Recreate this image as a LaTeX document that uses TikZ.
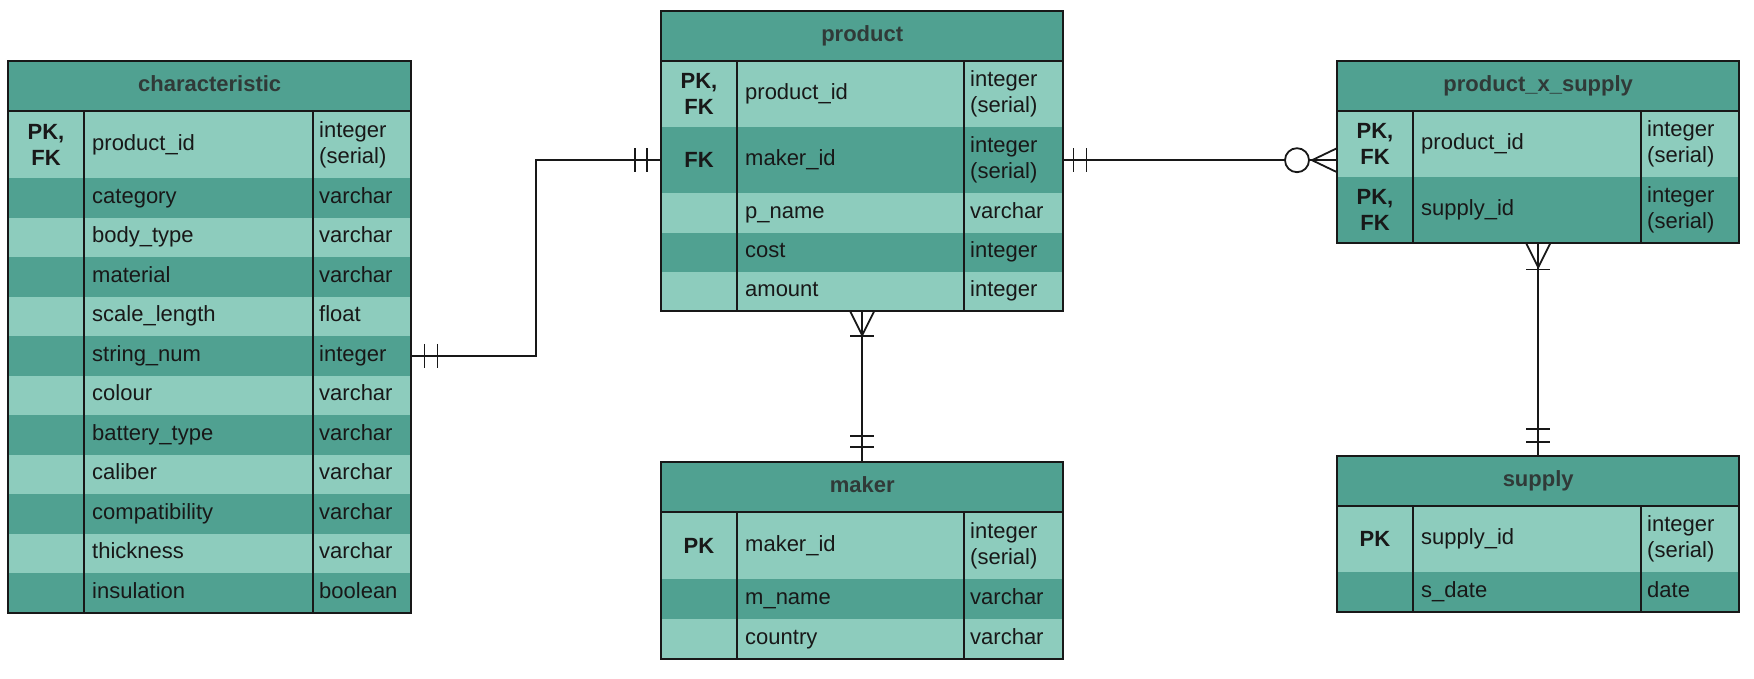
\documentclass[tikz,border=0pt]{standalone}
\usepackage{fontspec}
\setmainfont{Liberation Sans}
\usepackage{tikz}
\usetikzlibrary{calc,positioning}
\definecolor{tealdark}{RGB}{80,161,145}
\definecolor{teallight}{RGB}{141,204,189}
\definecolor{hdrtext}{RGB}{48,58,56}
\definecolor{ink}{RGB}{24,24,24}

\tikzset{
  hdrbox/.style={fill=tealdark,text=hdrtext,font=\bfseries,anchor=north west,
    inner sep=0pt,minimum height=50pt,text height=16pt,text depth=5pt},
  rowbox/.style={anchor=north west,inner sep=0pt},
  celltxt/.style={anchor=west,text=ink,inner sep=0pt,text height=16pt,text depth=5pt},
  celltwo/.style={anchor=west,text=ink,inner sep=0pt,align=left},
  keytxt/.style={text=ink,font=\bfseries,align=center,inner sep=0pt},
  frame/.style={ink,line width=2pt},
  rel/.style={ink,line width=1.8pt},
}

\begin{document}
\fontsize{22}{26}\selectfont
\begin{tikzpicture}[x=1pt,y=-1pt]
\useasboundingbox (0,0) rectangle (1754,678);

% characteristic
\node[hdrbox,minimum width=403pt] (ch0) at (8,61) {characteristic};
\node[rowbox,fill=teallight,minimum width=403pt,minimum height=67pt] (ch1) at (8,111) {};
\node[keytxt] at (46,144.5) {PK,\\FK};
\node[celltxt] at (92,144.5) {product\_id};
\node[celltwo] at (319,144.5) {integer\\(serial)};
\foreach \i/\n/\t in {2/category/varchar,3/body\_type/varchar,4/material/varchar,
    5/scale\_length/float,6/string\_num/integer,7/colour/varchar,8/battery\_type/varchar,
    9/caliber/varchar,10/compatibility/varchar,11/thickness/varchar,12/insulation/boolean}{
  \pgfmathsetmacro\ya{178+(\i-2)*39.5}
  \ifodd\i\relax\def\rc{teallight}\else\def\rc{tealdark}\fi
  \node[rowbox,fill=\rc,minimum width=403pt,minimum height=39.5pt] (ch\i) at (8,\ya) {};
  \node[celltxt] at (92,{\ya+19.75}) {\n};
  \node[celltxt] at (319,{\ya+19.75}) {\t};
}
\draw[frame] (ch0.north west) rectangle (ch12.south east);
\draw[frame] (ch0.south west) -- (ch0.south east);
\draw[frame] (84,111) -- (84,612.5);
\draw[frame] (313,111) -- (313,612.5);

% product
\node[hdrbox,minimum width=402pt] (pr0) at (661,11) {product};
\node[rowbox,fill=teallight,minimum width=402pt,minimum height=66pt] (pr1) at (661,61) {};
\node[keytxt] at (699,94) {PK,\\FK};
\node[celltxt] at (745,94) {product\_id};
\node[celltwo] at (970,94) {integer\\(serial)};
\node[rowbox,fill=tealdark,minimum width=402pt,minimum height=66pt] (pr2) at (661,127) {};
\node[keytxt] at (699,160) {FK};
\node[celltxt] at (745,160) {maker\_id};
\node[celltwo] at (970,160) {integer\\(serial)};
\foreach \i/\n/\t in {3/p\_name/varchar,4/cost/integer,5/amount/integer}{
  \pgfmathsetmacro\ya{193+(\i-3)*39.3}
  \ifodd\i\relax\def\rc{teallight}\else\def\rc{tealdark}\fi
  \node[rowbox,fill=\rc,minimum width=402pt,minimum height=39.3pt] (pr\i) at (661,\ya) {};
  \node[celltxt] at (745,{\ya+19.65}) {\n};
  \node[celltxt] at (970,{\ya+19.65}) {\t};
}
\draw[frame] (pr0.north west) rectangle (pr5.south east);
\draw[frame] (pr0.south west) -- (pr0.south east);
\draw[frame] (737,61) -- (737,311);
\draw[frame] (964,61) -- (964,311);

% maker
\node[hdrbox,minimum width=402pt] (mk0) at (661,462) {maker};
\node[rowbox,fill=teallight,minimum width=402pt,minimum height=67pt] (mk1) at (661,512) {};
\node[keytxt] at (699,545.5) {PK};
\node[celltxt] at (745,545.5) {maker\_id};
\node[celltwo] at (970,545.5) {integer\\(serial)};
\foreach \i/\n/\t in {2/m\_name/varchar,3/country/varchar}{
  \pgfmathsetmacro\ya{579+(\i-2)*40}
  \ifodd\i\relax\def\rc{teallight}\else\def\rc{tealdark}\fi
  \node[rowbox,fill=\rc,minimum width=402pt,minimum height=40pt] (mk\i) at (661,\ya) {};
  \node[celltxt] at (745,{\ya+20}) {\n};
  \node[celltxt] at (970,{\ya+20}) {\t};
}
\draw[frame] (mk0.north west) rectangle (mk3.south east);
\draw[frame] (mk0.south west) -- (mk0.south east);
\draw[frame] (737,512) -- (737,659);
\draw[frame] (964,512) -- (964,659);

% product_x_supply
\node[hdrbox,minimum width=402pt] (px0) at (1337,61) {product\_x\_supply};
\node[rowbox,fill=teallight,minimum width=402pt,minimum height=66pt] (px1) at (1337,111) {};
\node[keytxt] at (1375,144) {PK,\\FK};
\node[celltxt] at (1421,144) {product\_id};
\node[celltwo] at (1647,144) {integer\\(serial)};
\node[rowbox,fill=tealdark,minimum width=402pt,minimum height=66pt] (px2) at (1337,177) {};
\node[keytxt] at (1375,210) {PK,\\FK};
\node[celltxt] at (1421,210) {supply\_id};
\node[celltwo] at (1647,210) {integer\\(serial)};
\draw[frame] (px0.north west) rectangle (px2.south east);
\draw[frame] (px0.south west) -- (px0.south east);
\draw[frame] (1413,111) -- (1413,243);
\draw[frame] (1641,111) -- (1641,243);

% supply
\node[hdrbox,minimum width=402pt] (sp0) at (1337,456) {supply};
\node[rowbox,fill=teallight,minimum width=402pt,minimum height=66pt] (sp1) at (1337,506) {};
\node[keytxt] at (1375,539) {PK};
\node[celltxt] at (1421,539) {supply\_id};
\node[celltwo] at (1647,539) {integer\\(serial)};
\node[rowbox,fill=tealdark,minimum width=402pt,minimum height=40pt] (sp2) at (1337,572) {};
\node[celltxt] at (1421,592) {s\_date};
\node[celltxt] at (1647,592) {date};
\draw[frame] (sp0.north west) rectangle (sp2.south east);
\draw[frame] (sp0.south west) -- (sp0.south east);
\draw[frame] (1413,506) -- (1413,612);
\draw[frame] (1641,506) -- (1641,612);

% relations
\coordinate (kink) at (536,0);
\draw[rel] (ch6.east) -| (kink |- pr2.west) -- (pr2.west);
\draw[rel] ([xshift=13pt]ch6.east) ++(0,-12) -- ++(0,24);
\draw[rel] ([xshift=26pt]ch6.east) ++(0,-12) -- ++(0,24);
\draw[rel] ([xshift=-14pt]pr2.west) ++(0,-12) -- ++(0,24);
\draw[rel] ([xshift=-26pt]pr2.west) ++(0,-12) -- ++(0,24);

% product -- product_x_supply
\draw[rel] (pr2.east) -- (pr2.east -| px1.west);
\draw[rel] ([xshift=10pt]pr2.east) ++(0,-12) -- ++(0,24);
\draw[rel] ([xshift=23pt]pr2.east) ++(0,-12) -- ++(0,24);
\draw[rel,fill=white] ([xshift=-40pt]pr2.east -| px1.west) circle (12pt);
\draw[rel] ([xshift=-25pt]pr2.east -| px1.west) -- ++(25,-12)
  ([xshift=-25pt]pr2.east -| px1.west) -- ++(25,12);

% product -- maker
\draw[rel] (pr5.south) -- (mk0.north);
\draw[rel] ([xshift=-12pt]pr5.south) -- ([yshift=-24pt]pr5.south) -- ([xshift=12pt]pr5.south);
\draw[rel] ([yshift=-25pt]pr5.south) ++(-12,0) -- ++(24,0);
\draw[rel] ([yshift=26pt]mk0.north) ++(-12,0) -- ++(24,0);
\draw[rel] ([yshift=15pt]mk0.north) ++(-12,0) -- ++(24,0);

% product_x_supply -- supply
\draw[rel] (px2.south) -- (sp0.north);
\draw[rel] ([xshift=-12pt]px2.south) -- ([yshift=-24pt]px2.south) -- ([xshift=12pt]px2.south);
\draw[rel] ([yshift=-26pt]px2.south) ++(-12,0) -- ++(24,0);
\draw[rel] ([yshift=27pt]sp0.north) ++(-12,0) -- ++(24,0);
\draw[rel] ([yshift=14pt]sp0.north) ++(-12,0) -- ++(24,0);
\end{tikzpicture}
\end{document}
